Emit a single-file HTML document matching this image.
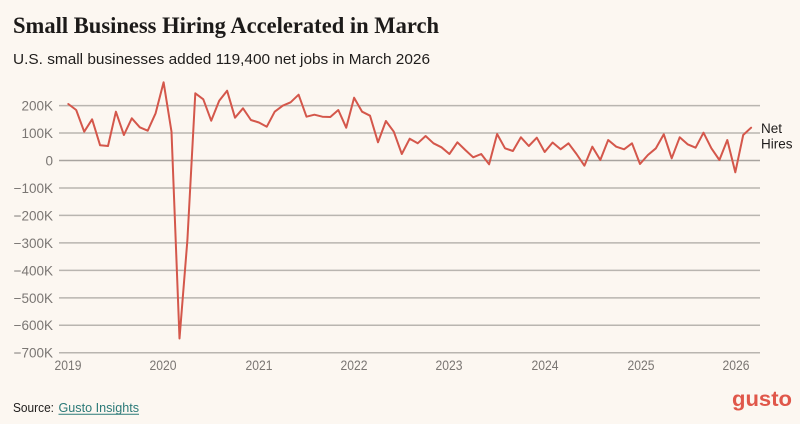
<!DOCTYPE html>
<html>
<head>
<meta charset="utf-8">
<style>
  html, body { margin:0; padding:0; background:#fcf7f1; }
  body { width:800px; height:424px; overflow:hidden; }
  svg { display:block; }
</style>
</head>
<body>
<svg width="800" height="424" viewBox="0 0 800 424" xmlns="http://www.w3.org/2000/svg">
  <rect x="0" y="0" width="800" height="424" fill="#fcf7f1"/>

  <!-- Title -->
  <text x="13" y="33" font-family="'Liberation Serif', serif" font-weight="bold" font-size="23.5" fill="#1c1a19" textLength="426" lengthAdjust="spacingAndGlyphs">Small Business Hiring Accelerated in March</text>
  <!-- Subtitle -->
  <text x="13" y="64" font-family="'Liberation Sans', sans-serif" font-size="15" fill="#1f1d1c" textLength="417" lengthAdjust="spacingAndGlyphs">U.S. small businesses added 119,400 net jobs in March 2026</text>

  <!-- Gridlines -->
  <g stroke="#b9b5b0" stroke-width="1.5">
    <line x1="59" y1="105.6" x2="760" y2="105.6"/>
    <line x1="59" y1="133.0" x2="760" y2="133.0"/>
    <line x1="59" y1="160.5" x2="760" y2="160.5" stroke="#a8a4a0"/>
    <line x1="59" y1="188.0" x2="760" y2="188.0"/>
    <line x1="59" y1="215.4" x2="760" y2="215.4"/>
    <line x1="59" y1="242.9" x2="760" y2="242.9"/>
    <line x1="59" y1="270.4" x2="760" y2="270.4"/>
    <line x1="59" y1="297.9" x2="760" y2="297.9"/>
    <line x1="59" y1="325.3" x2="760" y2="325.3"/>
    <line x1="59" y1="352.8" x2="760" y2="352.8"/>
  </g>

  <!-- Y labels -->
  <g font-family="'Liberation Sans', sans-serif" font-size="13.5" fill="#7a7673" text-anchor="end">
    <text x="53" y="110.5">200K</text>
    <text x="53" y="137.9">100K</text>
    <text x="53" y="165.4">0</text>
    <text x="53" y="192.9">−100K</text>
    <text x="53" y="220.3">−200K</text>
    <text x="53" y="247.8">−300K</text>
    <text x="53" y="275.3">−400K</text>
    <text x="53" y="302.8">−500K</text>
    <text x="53" y="330.2">−600K</text>
    <text x="53" y="357.7">−700K</text>
  </g>

  <!-- X labels -->
  <g font-family="'Liberation Sans', sans-serif" font-size="13.5" fill="#7a7673" text-anchor="middle">
    <text x="68" y="370" textLength="27" lengthAdjust="spacingAndGlyphs">2019</text>
    <text x="163" y="370" textLength="27" lengthAdjust="spacingAndGlyphs">2020</text>
    <text x="259" y="370" textLength="27" lengthAdjust="spacingAndGlyphs">2021</text>
    <text x="354" y="370" textLength="27" lengthAdjust="spacingAndGlyphs">2022</text>
    <text x="449" y="370" textLength="27" lengthAdjust="spacingAndGlyphs">2023</text>
    <text x="545" y="370" textLength="27" lengthAdjust="spacingAndGlyphs">2024</text>
    <text x="641" y="370" textLength="27" lengthAdjust="spacingAndGlyphs">2025</text>
    <text x="736" y="370" textLength="27" lengthAdjust="spacingAndGlyphs">2026</text>
  </g>

  <!-- Data line -->
  <polyline fill="none" stroke="#d4574b" stroke-width="2" stroke-linejoin="round" stroke-linecap="round"
    points="68.3,104 76.2,110 84.2,131.7 92.1,119.3 100.1,145.3 108.0,146 115.9,111.7 123.9,135 131.8,118.3 139.8,127.3 147.7,130.7 155.6,113.3 163.6,82.3 171.5,131.7 179.5,338.5 187.4,240 195.3,93.3 203.3,99.3 211.2,120.7 219.2,100.7 227.1,90.7 235.0,117.7 243.0,108.3 250.9,120 258.9,122.5 266.8,126.7 274.7,111.7 282.7,105.7 290.6,102.3 298.6,94.7 306.5,116.7 314.4,114.7 322.4,116.7 330.3,117 338.3,110 346.2,127.7 354.1,97.7 362.1,111.7 370.0,115.7 378.0,142.3 385.9,121 393.8,131.7 401.8,154 409.7,138.7 417.7,143.3 425.6,136 433.5,143.3 441.5,147.3 449.4,154 457.4,142.3 465.3,150 473.2,157.3 481.2,154 489.1,164.3 497.1,134 505.0,148.3 512.9,151 520.9,137.3 528.8,146 536.8,137.7 544.7,152 552.6,142.5 560.6,149.3 568.5,143.3 576.5,154 584.4,165.7 592.3,146.7 600.3,160 608.2,140 616.2,146.7 624.1,149.3 632.0,143.3 640.0,164 647.9,155 655.9,148.3 663.8,134.3 671.7,158.3 679.7,137.3 687.6,144.3 695.6,147.7 703.5,132.7 711.4,148.3 719.4,160 727.3,140 735.3,172.3 743.2,135 751.1,127.7"/>

  <!-- Series label -->
  <g font-family="'Liberation Sans', sans-serif" font-size="13.5" fill="#1f1d1c">
    <text x="761" y="133">Net</text>
    <text x="761" y="148.5">Hires</text>
  </g>

  <!-- Source -->
  <text x="13" y="412" font-family="'Liberation Sans', sans-serif" font-size="13" fill="#1f1d1c" textLength="41" lengthAdjust="spacingAndGlyphs">Source:</text>
  <text x="58.5" y="412" font-family="'Liberation Sans', sans-serif" font-size="13" fill="#2b7a78" textLength="80.5" lengthAdjust="spacingAndGlyphs">Gusto Insights</text>
  <line x1="58.5" y1="414.3" x2="139" y2="414.3" stroke="#2b7a78" stroke-width="1"/>

  <!-- Logo -->
  <text x="732" y="406" font-family="'Liberation Sans', sans-serif" font-weight="bold" font-size="21" fill="#e0574a" textLength="60" lengthAdjust="spacingAndGlyphs">gusto</text>
</svg>
</body>
</html>
